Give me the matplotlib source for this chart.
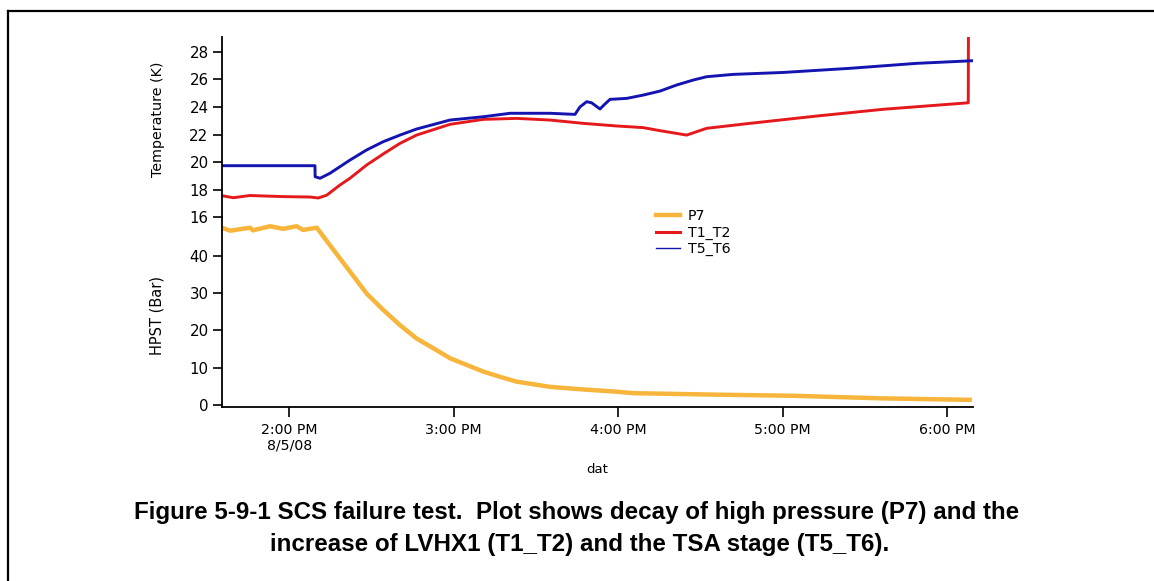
import matplotlib
matplotlib.use("Agg")
import matplotlib.pyplot as plt
from matplotlib.lines import Line2D

# ---- data (time in hours of day, 8/5/08) ----
p7_t = [13.589, 13.64, 13.761, 13.779, 13.883, 13.962, 14.045, 14.083, 14.167,
        14.247, 14.369, 14.47, 14.571, 14.673, 14.774, 14.875, 14.977, 15.078,
        15.18, 15.281, 15.382, 15.585, 15.785, 15.99, 16.09, 16.6, 17.06, 17.61, 18.15]
p7_v = [47.6, 46.8, 47.6, 46.9, 48.0, 47.3, 48.0, 47.0, 47.6,
        42.9, 35.8, 29.9, 25.5, 21.4, 17.8, 15.2, 12.5, 10.7,
        8.9, 7.5, 6.2, 4.8, 4.1, 3.5, 3.1, 2.7, 2.4, 1.7, 1.3]

t12_t = [13.589, 13.66, 13.76, 13.96, 14.126, 14.176, 14.227, 14.308, 14.369,
         14.47, 14.571, 14.673, 14.774, 14.977, 15.18, 15.382, 15.585, 15.787,
         15.99, 16.152, 16.254, 16.416, 16.537, 16.8, 17.206, 17.611, 18.128, 18.129]
t12_v = [17.57, 17.42, 17.58, 17.5, 17.47, 17.4, 17.6, 18.34, 18.83,
         19.79, 20.59, 21.36, 21.96, 22.74, 23.1, 23.17, 23.05, 22.81,
         22.62, 22.5, 22.28, 21.96, 22.45, 22.81, 23.34, 23.83, 24.3, 29.5]

t56_t = [13.589, 14.156, 14.157, 14.187, 14.247, 14.369, 14.47, 14.571, 14.673,
         14.774, 14.977, 15.18, 15.342, 15.585, 15.737, 15.767, 15.808, 15.838,
         15.889, 15.919, 15.95, 16.051, 16.152, 16.254, 16.355, 16.456, 16.537,
         16.699, 17.003, 17.409, 17.814, 18.155]
t56_v = [19.74, 19.74, 18.94, 18.83, 19.19, 20.15, 20.88, 21.48, 21.96,
         22.4, 23.05, 23.29, 23.54, 23.54, 23.46, 24.0, 24.38, 24.3,
         23.85, 24.21, 24.55, 24.62, 24.86, 25.15, 25.59, 25.95, 26.19,
         26.36, 26.5, 26.8, 27.16, 27.35]

x_ticks = [14, 15, 16, 17, 18]
x_tick_labels = ["2:00 PM\n8/5/08", "3:00 PM", "4:00 PM", "5:00 PM", "6:00 PM"]
temp_ticks = [16, 18, 20, 22, 24, 26, 28]
pres_ticks = [0, 10, 20, 30, 40]

C_P7 = "#F7B53C"
C_T12 = "#E5191C"
C_T56 = "#1414B0"

W, H = 1154, 581
fig = plt.figure(figsize=(W / 100, H / 100), dpi=100)
plt.rcParams['font.family'] = ['DejaVu Sans']

x0, x1 = 221.7, 972.7
yb_bot, yb_top = 407.3, 217.3
yt_top = 37.0

def rect(xl, xr, ybot, ytop):
    return [xl / W, 1 - ybot / H, (xr - xl) / W, (ybot - ytop) / H]

ax_p = fig.add_axes(rect(x0, x1, yb_bot, yb_top))
ax_t = fig.add_axes(rect(x0, x1, yb_top, yt_top), sharex=ax_p)

xlim = (13.589, 18.155)

ax_p.plot(p7_t, p7_v, color=C_P7, lw=3.2, solid_capstyle='butt')
ax_t.plot(t12_t, t12_v, color=C_T12, lw=2.1)
ax_t.plot(t56_t, t56_v, color=C_T56, lw=2.1)

ax_p.set_xlim(*xlim)
ax_p.set_ylim(-0.7, 50.4)
ax_t.set_ylim(16, 29.07)

for ax in (ax_p, ax_t):
    for s in ("top", "right"):
        ax.spines[s].set_visible(False)
    ax.spines["left"].set_linewidth(1.3)
    ax.patch.set_alpha(0)
ax_t.spines["bottom"].set_visible(False)
ax_p.spines["bottom"].set_linewidth(1.3)
ax_t.tick_params(axis='x', which='both', bottom=False, labelbottom=False)

ax_p.set_xticks(x_ticks)
ax_p.set_xticklabels(x_tick_labels, fontsize=10.2)
ax_p.tick_params(axis='x', direction='out', length=7, width=1.2, pad=4)
ax_p.set_yticks(pres_ticks)
ax_t.set_yticks(temp_ticks)
for ax in (ax_p, ax_t):
    ax.tick_params(axis='y', direction='out', length=6.5, width=1.2, pad=3, labelsize=10.8)

ax_t.set_ylabel("Temperature (K)", fontsize=10.3)
ax_t.yaxis.set_label_coords(-0.0755, 0.545)
ax_p.set_ylabel("HPST (Bar)", fontsize=10.5)
ax_p.yaxis.set_label_coords(-0.0755, 0.485)
ax_p.set_xlabel("dat", fontsize=9.5)
ax_p.xaxis.set_label_coords(0.5, -0.295)

handles = [Line2D([], [], color=C_P7, lw=3.2),
           Line2D([], [], color=C_T12, lw=2.2),
           Line2D([], [], color=C_T56, lw=1.0)]
fig.legend(handles, ["P7", "T1_T2", "T5_T6"], loc='upper left',
           bbox_to_anchor=(656 / W, 1 - 209 / H), frameon=False, fontsize=10.2,
           handlelength=1.7, handletextpad=0.55, labelspacing=0.18,
           borderpad=0, borderaxespad=0)

# caption
fig.text(577 / W, 1 - 512 / H,
         "Figure 5-9-1 SCS failure test.  Plot shows decay of high pressure (P7) and the",
         ha='center', va='center', fontsize=17.4, fontweight='bold',
         family='Liberation Sans')
fig.text(580 / W, 1 - 545 / H,
         "increase of LVHX1 (T1_T2) and the TSA stage (T5_T6).",
         ha='center', va='center', fontsize=17.4, fontweight='bold',
         family='Liberation Sans')

# outer frame (left and top edges visible)
fig.add_artist(Line2D([7.5 / W, 7.5 / W], [0, 1 - 10.5 / H], transform=fig.transFigure,
                      color='black', lw=1.6))
fig.add_artist(Line2D([7.5 / W, 1], [1 - 10.5 / H, 1 - 10.5 / H], transform=fig.transFigure,
                      color='black', lw=1.6))

fig.savefig("out.png", dpi=100)
